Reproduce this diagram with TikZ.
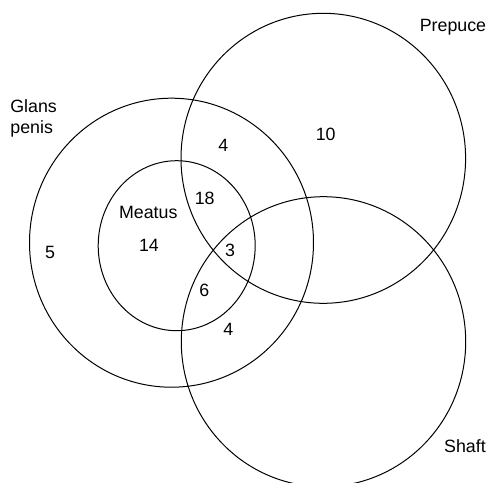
\documentclass[tikz,border=0pt]{standalone}
\usepackage{fontspec}
\setmainfont{Liberation Sans}

\begin{document}
\begin{tikzpicture}[x=0.5pt, y=-0.5pt]
    \tikzstyle{ring} = [draw, line width=0.5pt]
    \tikzstyle{count} = [font=\fontsize{8.9}{10.5}\selectfont, inner sep=0pt]

    \clip (0,0) rectangle (489,483);

    % Draw the four sets
    \draw[ring] (171.5,242.7) ellipse [x radius=142, y radius=144.5];   % glans penis
    \draw[ring] (176.7,245.7) ellipse [x radius=78.5, y radius=85];     % meatus
    \draw[ring] (323.3,158.3) ellipse [x radius=142.3, y radius=145];   % prepuce
    \draw[ring] (323.5,341.7) ellipse [x radius=142.2, y radius=145];   % shaft

    % Set names
    \node[count, anchor=west, align=left] (glans) at (10,118.5) {Glans\\penis};
    \node[count] (meatus) at (148.3,212.3) {Meatus};
    \node[count] (prepuce) at (453,27.3) {Prepuce};
    \node[count] (shaft) at (465,446) {Shaft};

    % Counts in each region
    \node[count] (nglans) at (50,252.3) {5};
    \node[count] (nmeatus) at (149,245) {14};
    \node[count] (nprepuce) at (325.7,134.3) {10};
    \node[count] (nglanspre) at (223.3,145.3) {4};
    \node[count] (nmeatpre) at (204.7,198.3) {18};
    \node[count] (nall) at (230,250) {3};
    \node[count] (nmeatshaft) at (204.3,290.7) {6};
    \node[count] (nglansshaft) at (228.3,329.3) {4};
\end{tikzpicture}
\end{document}
